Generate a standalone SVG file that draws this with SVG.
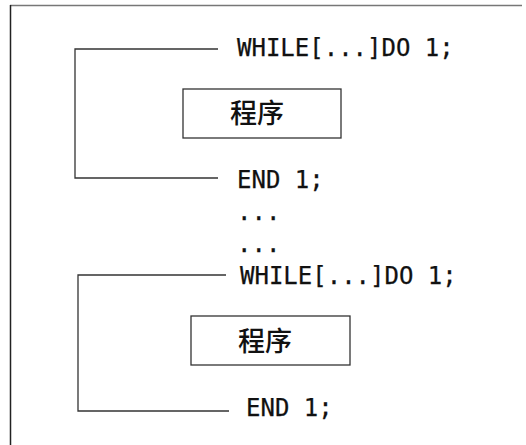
<svg xmlns="http://www.w3.org/2000/svg" width="526" height="445" viewBox="0 0 526 445">
<style>
.code{font-family:"DejaVu Sans Mono","Liberation Mono",monospace;font-size:24px;fill:#111;stroke:#111;stroke-width:0.25}
.cjk{font-family:"Noto Sans CJK SC","Noto Sans CJK JP",sans-serif;font-size:27px;font-weight:500;fill:#111;text-anchor:middle}
.ln{fill:none;stroke:#333;stroke-width:1.3}
.box{fill:#fff;stroke:#333;stroke-width:1.3}
</style>
<rect width="526" height="445" fill="#fff"/>
<g id="frame">
<line x1="10" y1="5.5" x2="522" y2="5.5" stroke="#777" stroke-width="1.5"/>
<line x1="10.5" y1="5" x2="10.5" y2="445" stroke="#222" stroke-width="1.5"/>
</g>
<g id="connectors">
<polyline class="ln" points="218,49 75,49 75,178 218,178"/>
<polyline class="ln" points="226,275 78,275 78,411 229,411"/>
</g>
<g id="while1"><text class="code" x="237" y="56">WHILE[...]DO 1;</text></g>
<g id="prog1"><rect class="box" x="183" y="89" width="158" height="49"/><text class="cjk" x="257" y="123">程序</text></g>
<g id="end1"><text class="code" x="237" y="188">END 1;</text></g>
<g id="dots"><text class="code" x="237" y="220">...</text><text class="code" x="237" y="252">...</text></g>
<g id="while2"><text class="code" x="240" y="284">WHILE[...]DO 1;</text></g>
<g id="prog2"><rect class="box" x="191" y="316" width="159" height="49"/><text class="cjk" x="265" y="351">程序</text></g>
<g id="end2"><text class="code" x="246" y="416">END 1;</text></g>
</svg>
